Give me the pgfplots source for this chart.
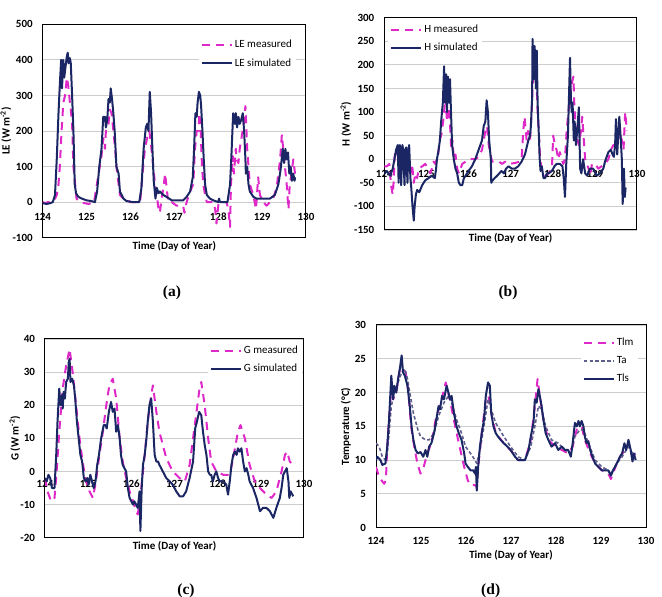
\documentclass[border=0pt]{standalone}
\usepackage{fontspec}
\setmainfont{Carlito}
\newfontfamily\capfont{Liberation Serif}
\usepackage{pgfplots}
\pgfplotsset{compat=1.18}
\definecolor{navy}{RGB}{27,38,100}
\definecolor{mag}{RGB}{222,40,200}
\definecolor{tagray}{RGB}{95,95,140}
\definecolor{gridc}{RGB}{205,205,205}
\pgfplotsset{
 panel/.style={
  scale only axis, anchor=south west,
  xmin=124, xmax=130, xtick={124,...,130},
  ymajorgrids, major grid style={gridc, line width=0.9pt},
  major tick length=0pt,
  axis line style={black, line width=1pt},
  /pgf/number format/assume math mode=true,
  tick label style={font=\bfseries\fontsize{11}{12}\selectfont},
  label style={font=\bfseries\fontsize{11}{12}\selectfont},
  yticklabel style={anchor=east, xshift=-6.5pt},
  legend style={draw=none, fill=white, inner sep=2pt, row sep=5pt,
     font=\fontsize{11}{12}\selectfont, nodes={inner sep=2pt}},
  legend cell align=left,
  legend image code/.code={\draw[##1] (0pt,0pt) -- (23pt,0pt); \path (0pt,0pt) -- (30pt,0pt);},
 },
 meas/.style={mag, line width=2pt, line join=round, dash pattern=on 8pt off 6pt},
 sim/.style={navy, line width=2pt, line join=round, solid},
 tast/.style={tagray, line width=1.6pt, line join=round, dash pattern=on 3.5pt off 2.3pt},
}
\begin{document}
\begin{tikzpicture}
\useasboundingbox (0pt,0pt) rectangle (662pt,597pt);
% ---------------- (a) LE
\begin{axis}[panel, at={(42.7pt,359.3pt)}, width=263.3pt, height=213.4pt,
  ymin=-100, ymax=500, ytick={-100,0,...,500},
  xticklabel style={anchor=center, yshift=21pt},
  xlabel={Time (Day of Year)}, ylabel={LE (W m\textsuperscript{-2})},
  xlabel style={at={([yshift=-9pt]axis description cs:0.5,0)}, anchor=center},
  ylabel style={at={([xshift=-36.7pt]axis description cs:0,0.5)}, anchor=center},
  legend style={at={(axis description cs:0.592,0.945)}, anchor=north west}]
\addplot[meas] coordinates {(124.00,0)(124.06,-3)(124.12,0)(124.20,-2)(124.28,10)(124.32,20)(124.36,50)(124.39,100)(124.43,200)(124.47,280)(124.51,300)(124.55,350)(124.58,330)(124.62,280)(124.64,260)(124.67,220)(124.70,100)(124.74,50)(124.77,10)(124.85,0)(124.95,-3)(125.05,-5)(125.10,-3)(125.17,0)(125.30,100)(125.34,130)(125.38,180)(125.42,150)(125.44,200)(125.50,220)(125.53,260)(125.57,250)(125.61,200)(125.65,150)(125.68,100)(125.72,60)(125.76,20)(125.84,10)(125.91,10)(125.99,0)(126.22,0)(126.29,100)(126.33,150)(126.38,180)(126.43,200)(126.47,160)(126.52,100)(126.56,50)(126.60,20)(126.64,-20)(126.67,-30)(126.71,10)(126.75,40)(126.79,80)(126.86,0)(126.94,0)(127.05,-10)(127.20,-10)(127.23,-30)(127.28,0)(127.36,30)(127.43,50)(127.47,150)(127.51,200)(127.55,200)(127.57,250)(127.60,200)(127.63,100)(127.66,50)(127.70,20)(127.74,0)(127.89,0)(127.93,-20)(127.96,-60)(128.00,-10)(128.02,0)(128.10,0)(128.19,0)(128.23,-20)(128.27,-70)(128.29,50)(128.33,130)(128.36,80)(128.40,150)(128.42,120)(128.46,110)(128.49,150)(128.53,180)(128.58,220)(128.62,270)(128.66,150)(128.69,100)(128.72,50)(128.80,20)(128.86,-20)(128.91,70)(128.95,20)(129.03,0)(129.10,-10)(129.18,0)(129.25,10)(129.33,40)(129.41,120)(129.45,190)(129.48,150)(129.52,100)(129.56,50)(129.60,-20)(129.63,50)(129.67,80)(129.71,120)(129.75,80)};
\addlegendentry{LE measured}
\addplot[sim] coordinates {(124.00,-3)(124.09,-5)(124.17,-3)(124.23,0)(124.28,20)(124.32,120)(124.36,250)(124.39,330)(124.42,400)(124.44,320)(124.47,400)(124.49,350)(124.52,380)(124.55,410)(124.57,420)(124.59,390)(124.62,405)(124.64,390)(124.67,300)(124.70,200)(124.73,50)(124.76,25)(124.81,15)(124.89,10)(125.00,5)(125.11,3)(125.19,0)(125.24,30)(125.29,100)(125.34,150)(125.38,240)(125.42,240)(125.44,210)(125.47,230)(125.50,290)(125.53,280)(125.55,320)(125.58,290)(125.61,250)(125.64,200)(125.68,100)(125.73,80)(125.76,30)(125.84,10)(125.91,3)(126.06,0)(126.20,0)(126.25,40)(126.30,150)(126.35,210)(126.38,220)(126.41,200)(126.44,310)(126.47,250)(126.50,150)(126.53,60)(126.57,10)(126.60,40)(126.64,25)(126.67,30)(126.75,20)(126.82,15)(126.94,5)(127.05,5)(127.20,5)(127.28,15)(127.36,30)(127.42,70)(127.45,150)(127.48,250)(127.51,240)(127.53,280)(127.56,310)(127.59,300)(127.61,270)(127.64,200)(127.67,120)(127.70,50)(127.74,20)(127.81,10)(127.89,5)(128.00,0)(128.02,10)(128.04,0)(128.15,0)(128.21,0)(128.27,50)(128.30,130)(128.34,250)(128.38,220)(128.40,250)(128.43,210)(128.46,240)(128.49,220)(128.52,230)(128.56,250)(128.59,200)(128.62,120)(128.63,80)(128.66,100)(128.69,50)(128.72,30)(128.80,15)(128.87,10)(128.99,10)(129.18,10)(129.29,20)(129.37,50)(129.42,90)(129.47,150)(129.50,110)(129.53,150)(129.56,120)(129.59,140)(129.62,80)(129.65,100)(129.68,60)(129.71,80)(129.74,60)(129.75,70)};
\addlegendentry{LE simulated}
\end{axis}
% ---------------- (b) H
\begin{axis}[panel, at={(384.3pt,367pt)}, width=252.7pt, height=212.3pt,
  ymin=-150, ymax=300, ytick={-150,-100,...,300},
  xticklabel style={anchor=center, yshift=56pt},
  xlabel={Time (Day of Year)}, ylabel={H (W m\textsuperscript{-2})},
  xlabel style={at={([yshift=-8.3pt]axis description cs:0.5,0)}, anchor=center},
  ylabel style={at={([xshift=-38.3pt]axis description cs:0,0.5)}, anchor=center},
  legend style={at={(axis description cs:0.015,0.985)}, anchor=north west}]
\addplot[meas] coordinates {(124.00,-15)(124.06,-15)(124.12,-10)(124.16,-55)(124.20,-75)(124.22,-50)(124.25,10)(124.28,20)(124.34,0)(124.40,20)(124.46,10)(124.54,0)(124.58,-20)(124.62,-30)(124.66,-10)(124.70,-50)(124.74,-30)(124.78,-40)(124.82,-20)(124.90,-15)(124.97,-10)(125.05,-20)(125.09,-30)(125.13,-20)(125.17,-5)(125.21,-10)(125.28,10)(125.31,40)(125.35,50)(125.37,60)(125.41,90)(125.45,130)(125.49,80)(125.53,110)(125.57,60)(125.59,20)(125.62,40)(125.65,0)(125.69,10)(125.73,-20)(125.77,-30)(125.81,-20)(125.85,-10)(125.93,-5)(126.00,0)(126.16,0)(126.24,5)(126.32,20)(126.40,60)(126.44,70)(126.48,30)(126.52,10)(126.56,-5)(126.64,-5)(126.72,-5)(126.80,-10)(126.87,-5)(126.95,-10)(127.10,-8)(127.22,-5)(127.26,0)(127.30,60)(127.33,90)(127.38,40)(127.41,60)(127.46,40)(127.50,100)(127.54,200)(127.58,210)(127.62,150)(127.64,100)(127.68,40)(127.70,0)(127.74,-20)(127.82,-35)(127.90,-30)(127.98,-20)(128.01,50)(128.05,30)(128.09,20)(128.13,0)(128.17,15)(128.21,0)(128.25,-10)(128.29,0)(128.33,60)(128.37,100)(128.41,130)(128.45,160)(128.49,175)(128.51,120)(128.55,60)(128.59,40)(128.62,30)(128.67,60)(128.70,90)(128.73,50)(128.77,0)(128.81,-10)(128.85,-20)(128.89,-35)(128.93,-10)(129.01,-10)(129.08,-20)(129.16,-15)(129.24,-10)(129.32,0)(129.38,20)(129.44,30)(129.52,30)(129.58,60)(129.64,40)(129.68,20)(129.72,100)(129.76,60)};
\addlegendentry{H measured}
\addplot[sim] coordinates {(124.00,-30)(124.06,-25)(124.14,-35)(124.20,-20)(124.24,0)(124.28,20)(124.32,30)(124.34,-50)(124.37,30)(124.39,10)(124.40,-55)(124.43,30)(124.45,20)(124.48,-55)(124.50,20)(124.52,25)(124.55,-50)(124.57,20)(124.59,30)(124.62,-40)(124.64,-60)(124.67,-100)(124.70,-130)(124.72,-100)(124.75,-75)(124.78,-65)(124.83,-70)(124.90,-55)(124.97,-45)(125.05,-40)(125.13,-35)(125.20,-40)(125.23,-20)(125.25,0)(125.29,20)(125.32,40)(125.35,80)(125.39,120)(125.42,197)(125.44,120)(125.47,180)(125.49,100)(125.51,175)(125.54,120)(125.56,170)(125.58,110)(125.61,30)(125.65,0)(125.69,-20)(125.73,-30)(125.77,-50)(125.81,-55)(125.85,-55)(125.89,-40)(125.93,-35)(126.00,-25)(126.08,-15)(126.16,0)(126.24,20)(126.28,30)(126.32,40)(126.36,70)(126.40,80)(126.43,125)(126.46,100)(126.49,40)(126.53,0)(126.54,-50)(126.57,-45)(126.62,-40)(126.68,-35)(126.73,-30)(126.78,-25)(126.84,-30)(126.89,-20)(126.95,-15)(127.03,-20)(127.10,-20)(127.18,-15)(127.26,-5)(127.34,10)(127.38,25)(127.42,40)(127.46,50)(127.48,70)(127.51,130)(127.52,255)(127.55,170)(127.57,240)(127.60,150)(127.62,230)(127.64,120)(127.67,50)(127.69,0)(127.71,-25)(127.74,-15)(127.78,-40)(127.82,-40)(127.86,-30)(127.90,-30)(127.98,-25)(128.04,-15)(128.09,-10)(128.17,-10)(128.23,-15)(128.26,-40)(128.29,-80)(128.32,-10)(128.36,50)(128.39,150)(128.41,215)(128.43,130)(128.45,100)(128.47,120)(128.50,40)(128.52,80)(128.55,30)(128.58,60)(128.62,110)(128.65,-20)(128.68,-30)(128.72,0)(128.77,-30)(128.82,-35)(128.88,-20)(128.96,-20)(129.04,-35)(129.12,-30)(129.20,-20)(129.24,-5)(129.32,15)(129.38,20)(129.42,10)(129.45,5)(129.48,30)(129.50,85)(129.53,10)(129.56,60)(129.58,90)(129.61,50)(129.64,0)(129.66,-95)(129.69,-20)(129.71,-80)(129.73,-60)};
\addlegendentry{H simulated}
\end{axis}
% ---------------- (c) G
\begin{axis}[panel, at={(45pt,59.3pt)}, width=259pt, height=198.7pt,
  ymin=-20, ymax=40, ytick={-20,-10,...,40},
  xticklabel style={anchor=center, yshift=53.7pt},
  xlabel={Time (Day of Year)}, ylabel={G (W m\textsuperscript{-2})},
  xlabel style={at={([yshift=-8.3pt]axis description cs:0.5,0)}, anchor=center},
  ylabel style={at={([xshift=-30pt]axis description cs:0,0.5)}, anchor=center},
  legend style={at={(axis description cs:0.628,0.985)}, anchor=north west}]
\addplot[meas] coordinates {(124.00,-2)(124.06,-6)(124.14,-9)(124.22,-8)(124.27,0)(124.33,12)(124.41,25)(124.49,32)(124.57,37)(124.64,30)(124.72,20)(124.80,10)(124.87,3)(124.95,-3)(125.03,-6)(125.11,-8)(125.18,-3)(125.26,5)(125.34,12)(125.42,20)(125.49,26)(125.57,28)(125.65,22)(125.73,10)(125.80,3)(125.88,-2)(125.96,-6)(126.04,-9)(126.11,-12)(126.15,-13)(126.23,-5)(126.31,5)(126.38,15)(126.46,23)(126.50,26)(126.58,18)(126.65,12)(126.73,8)(126.81,4)(126.96,0)(127.12,-2)(127.24,-3)(127.35,2)(127.43,10)(127.51,18)(127.58,25)(127.62,27)(127.70,20)(127.78,10)(127.85,3)(127.97,0)(128.13,-1)(128.28,-1)(128.36,4)(128.47,12)(128.53,14)(128.63,10)(128.74,2)(128.86,-3)(128.98,-5)(129.13,-7)(129.25,-8)(129.36,-6)(129.48,0)(129.56,5)(129.61,6)(129.67,3)(129.75,2)};
\addlegendentry{G measured}
\addplot[sim] coordinates {(124.00,-2)(124.04,-3)(124.08,-1)(124.12,-2)(124.16,-5)(124.22,-5)(124.26,5)(124.29,15)(124.33,25)(124.36,20)(124.39,23)(124.41,19)(124.43,24)(124.46,22)(124.49,27)(124.53,28)(124.55,33)(124.57,34)(124.59,27)(124.63,28)(124.67,26)(124.70,22)(124.74,15)(124.78,10)(124.82,5)(124.86,3)(124.90,-2)(124.94,-3)(124.98,-2)(125.01,-4)(125.05,-1)(125.09,-3)(125.13,-5)(125.17,-3)(125.21,2)(125.25,5)(125.30,10)(125.36,14)(125.40,14)(125.43,13)(125.48,18)(125.53,21)(125.57,18)(125.61,19)(125.65,12)(125.69,14)(125.73,10)(125.76,5)(125.80,2)(125.84,1)(125.88,0)(125.92,-5)(125.96,-8)(126.00,-9)(126.04,-10)(126.07,-9)(126.11,-10)(126.15,-11)(126.19,-6)(126.21,-18)(126.24,-5)(126.27,2)(126.31,5)(126.35,10)(126.38,15)(126.42,20)(126.46,22)(126.50,15)(126.54,5)(126.58,3)(126.62,3)(126.65,2)(126.73,0)(126.81,-2)(126.89,-3)(126.96,-4)(127.04,-6)(127.12,-7.5)(127.20,-7.5)(127.27,-6)(127.35,-2)(127.43,3)(127.48,13)(127.52,15)(127.57,18)(127.62,17)(127.66,12)(127.70,8)(127.74,5)(127.78,0)(127.82,-1)(127.85,-1)(127.89,-3)(127.93,-1)(127.97,0)(128.01,-2)(128.05,-3)(128.13,-3)(128.20,-4)(128.24,-7)(128.28,-3)(128.32,2)(128.36,5)(128.40,6)(128.44,5)(128.47,7)(128.51,6)(128.55,7)(128.59,3)(128.63,0)(128.67,1)(128.71,-1)(128.74,-3)(128.82,-5)(128.90,-8)(128.98,-12)(129.05,-11)(129.13,-11)(129.21,-12)(129.29,-14)(129.36,-11)(129.44,-8)(129.48,-5)(129.52,-1)(129.56,0)(129.60,1)(129.64,-3)(129.66,-8)(129.69,-6)(129.73,-7)(129.75,-7.5)};
\addlegendentry{G simulated}
\end{axis}
% ---------------- (d) Temperature
\begin{axis}[panel, at={(376pt,69.3pt)}, width=270pt, height=202.7pt,
  ymin=0, ymax=30, ytick={0,5,...,30},
  xticklabel style={anchor=center, yshift=-13pt},
  xlabel={Time (Day of Year)}, ylabel={Temperature (°C)},
  xlabel style={at={([yshift=-27.3pt]axis description cs:0.5,0)}, anchor=center},
  ylabel style={at={([xshift=-30pt]axis description cs:0,0.5)}, anchor=center},
  legend style={at={(axis description cs:0.758,0.955)}, anchor=north west}]
\addplot[meas] coordinates {(124.00,9)(124.07,7.5)(124.18,6.5)(124.22,7)(124.25,12)(124.29,16)(124.34,21)(124.38,19)(124.45,20)(124.53,23.5)(124.60,23.5)(124.66,23)(124.72,20)(124.78,15)(124.85,12)(124.92,9.5)(124.99,8)(125.06,9)(125.14,11)(125.23,12.5)(125.34,16.5)(125.42,18)(125.55,21.5)(125.64,19)(125.73,16)(125.84,12.5)(125.96,9)(126.04,7)(126.10,6.3)(126.20,6.3)(126.24,6)(126.27,9)(126.35,14)(126.44,19)(126.50,19.5)(126.56,17)(126.66,14)(126.84,12.5)(126.99,11.5)(127.16,10)(127.31,10)(127.44,13)(127.53,18)(127.59,22)(127.64,19.5)(127.72,16)(127.83,13)(127.98,12)(128.13,11.5)(128.27,11)(128.37,12)(128.46,14.5)(128.57,15)(128.64,13)(128.76,11)(128.87,9.5)(129.02,8.5)(129.16,8)(129.22,7.2)(129.35,9.5)(129.47,11)(129.56,11.5)(129.61,12.5)(129.70,10.5)(129.77,11)};
\addlegendentry{Tlm}
\addplot[tast] coordinates {(124.00,12.5)(124.07,12)(124.14,10.5)(124.21,10)(124.25,11)(124.29,14)(124.34,18)(124.41,20)(124.49,21.5)(124.57,23)(124.64,23.5)(124.70,22)(124.75,20)(124.83,17)(124.93,14.5)(124.99,13.5)(125.10,13)(125.18,13)(125.29,14)(125.39,16.5)(125.51,18.5)(125.61,19.5)(125.68,18.5)(125.79,16)(125.90,14)(125.99,12)(126.10,11)(126.20,10)(126.24,9.5)(126.31,11.5)(126.40,15)(126.49,19)(126.56,17.5)(126.66,15.5)(126.84,13.5)(126.99,12)(127.16,10.5)(127.31,10)(127.44,12)(127.53,15)(127.61,18)(127.68,17.5)(127.77,15)(127.90,13)(128.05,12.5)(128.20,11.5)(128.33,11)(128.42,13.5)(128.53,14.5)(128.61,14.5)(128.72,12.5)(128.87,10)(129.02,9)(129.16,8.5)(129.22,8)(129.35,9.5)(129.47,10.5)(129.56,11.5)(129.61,12)(129.70,11)(129.77,11)};
\addlegendentry{Ta}
\addplot[sim] coordinates {(124.00,10)(124.03,10.5)(124.10,10)(124.14,9.3)(124.21,9.5)(124.25,12)(124.29,16)(124.34,22.5)(124.38,19)(124.41,21)(124.45,20)(124.49,22)(124.53,23.5)(124.57,25.5)(124.60,23)(124.64,22.5)(124.70,21)(124.75,18)(124.79,15)(124.83,13)(124.88,11.5)(124.93,11)(124.99,11.2)(125.05,10.5)(125.10,11.5)(125.14,10.5)(125.18,12)(125.23,12.5)(125.29,14)(125.34,16)(125.39,18)(125.42,17.5)(125.47,19.5)(125.51,19)(125.57,21)(125.61,20)(125.64,19)(125.68,19.5)(125.73,17)(125.79,15)(125.84,14)(125.90,13)(125.96,11)(125.99,9.5)(126.04,9)(126.10,8.5)(126.16,8.5)(126.20,8)(126.22,9)(126.24,5.5)(126.27,9)(126.31,12)(126.35,14)(126.40,16)(126.44,19.5)(126.49,21.5)(126.53,21)(126.56,17)(126.61,15)(126.66,14)(126.71,13.5)(126.77,13)(126.84,12.5)(126.92,12)(126.99,11.5)(127.09,10.5)(127.16,10)(127.24,10)(127.31,10)(127.39,11.5)(127.44,13.5)(127.50,15.5)(127.53,19)(127.57,18.5)(127.61,20.5)(127.64,19.5)(127.68,18)(127.72,16)(127.77,14)(127.83,13)(127.90,12)(127.98,12.5)(128.05,11.5)(128.13,12)(128.20,11.5)(128.27,11.5)(128.33,10.5)(128.37,12.5)(128.42,15.5)(128.46,15)(128.50,15.8)(128.53,15)(128.57,15.8)(128.61,15)(128.64,13.5)(128.68,12.5)(128.72,12.8)(128.76,11.5)(128.81,10.5)(128.87,9.5)(128.94,9)(129.02,8.5)(129.09,8.5)(129.16,8.5)(129.22,7.7)(129.27,8.5)(129.35,9.5)(129.42,10.5)(129.47,11)(129.52,12.5)(129.56,11.5)(129.61,13)(129.66,11.5)(129.70,9.8)(129.73,11)(129.77,10)};
\addlegendentry{Tls}
\end{axis}
% ---------------- sub-captions
\node[font=\capfont\bfseries\fontsize{15.5}{17}\selectfont] at (172pt,304.3pt) {(a)};
\node[font=\capfont\bfseries\fontsize{15.5}{17}\selectfont] at (508pt,304.3pt) {(b)};
\node[font=\capfont\bfseries\fontsize{15.5}{17}\selectfont] at (186pt,6.3pt) {(c)};
\node[font=\capfont\bfseries\fontsize{15.5}{17}\selectfont] at (490.7pt,6.3pt) {(d)};
\end{tikzpicture}
\end{document}
